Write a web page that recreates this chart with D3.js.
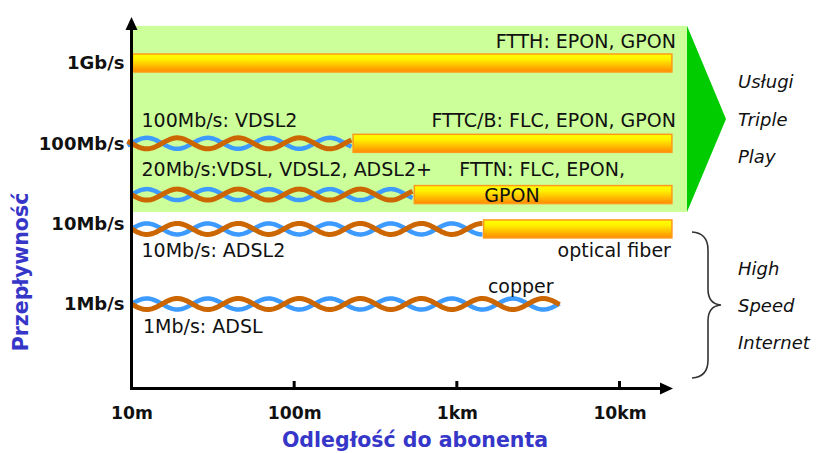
<!DOCTYPE html>
<html>
<head>
<meta charset="utf-8">
<script src="https://cdn.jsdelivr.net/npm/d3@7"></script>
<style>
  html, body { margin: 0; padding: 0; background: #ffffff; }
  svg { display: block; }
</style>
</head>
<body>
<script>
// ---------- data ----------
const xTickValues = [10, 100, 1000, 10000];
const xTickLabels = ["10m", "100m", "1km", "10km"];
const yTickValues = [1, 10, 100, 1000];
const yTickLabels = ["1Mb/s", "10Mb/s", "100Mb/s", "1Gb/s"];

const copperSpeeds = [100, 23, 8.6, 1];          // Mb/s (row level)
const copperReach  = [227, 540, 1440, 4300];     // metres where copper ends
const copperLabels = ["100Mb/s: VDSL2", "20Mb/s:VDSL, VDSL2, ADSL2+", "10Mb/s: ADSL2", "1Mb/s: ADSL"];

const fiberSpeeds = [1000, 100, 23, 8.6];
const fiberStart  = [10, 227, 540, 1440];
const fiberEnd    = 21000;
const fiberLabels = ["FTTH: EPON, GPON", "FTTC/B: FLC, EPON, GPON", "FTTN: FLC, EPON,|GPON", "optical fiber"];

const tripleZone = { from: 10, to: 26000, low: 14, high: 2900 };
const triplePlayText = ["Usługi", "Triple", "Play"];
const internetText = ["High", "Speed", "Internet"];
const copperText = "copper";
const xTitle = "Odległość do abonenta";
const yTitle = "Przepływność";

// ---------- setup ----------
const W = 818, H = 453;
const svg = d3.select("body").append("svg").attr("width", W).attr("height", H);
svg.append("rect").attr("width", W).attr("height", H).attr("fill", "#ffffff");

const x = d3.scaleLog().domain([10, 10000]).range([131.5, 619.5]);
const y = d3.scaleLog().domain([1, 1000]).range([304, 63]);

const FONT = "'DejaVu Sans', Verdana, sans-serif";
const BLUE_TITLE = "#3636c8";
const ORANGE = "#cc6600";
const WIRE_BLUE = "#3d9bff";

const defs = svg.append("defs");
const grad = defs.append("linearGradient").attr("id", "fib")
  .attr("x1", 0).attr("y1", 0).attr("x2", 0).attr("y2", 1);
grad.append("stop").attr("offset", "0%").attr("stop-color", "#ffff00");
grad.append("stop").attr("offset", "30%").attr("stop-color", "#fff000");
grad.append("stop").attr("offset", "100%").attr("stop-color", "#ff8a00");

// ---------- triple play zone ----------
const zx0 = x(tripleZone.from), zx1 = x(tripleZone.to);
const zy0 = y(tripleZone.high), zy1 = y(tripleZone.low);
svg.append("rect")
  .attr("x", zx0).attr("y", zy0)
  .attr("width", zx1 - zx0).attr("height", zy1 - zy0)
  .attr("fill", "#ccff99");
svg.append("path")
  .attr("d", `M${zx1},${zy0} L${zx1 + 39},${(zy0 + zy1) / 2} L${zx1},${zy1} Z`)
  .attr("fill", "#00cc00");

// ---------- twisted pairs ----------
const PERIOD = 61, AMP = 5.5;
function wire(x0, x1, cy, sign) {
  const pts = [];
  const start = x(10);
  for (let px = x0; px <= x1; px += 1) {
    pts.push([px, cy + sign * AMP * Math.sin(2 * Math.PI * (px - start) / PERIOD)]);
  }
  return d3.line()(pts);
}
copperSpeeds.forEach((s, i) => {
  const cy = y(s);
  const a = x(10) - (i === 0 ? 4 : 0), b = x(copperReach[i]);
  svg.append("path").attr("d", wire(a, b, cy, -1))
    .attr("fill", "none").attr("stroke", WIRE_BLUE).attr("stroke-width", 4.5);
  svg.append("path").attr("d", wire(a, b, cy, 1))
    .attr("fill", "none").attr("stroke", ORANGE).attr("stroke-width", 5);
});

// ---------- fiber bars ----------
const BAR_H = 18;
fiberSpeeds.forEach((s, i) => {
  const x0 = x(fiberStart[i]), x1 = x(fiberEnd);
  svg.append("rect")
    .attr("x", x0 + 1).attr("y", y(s) - BAR_H / 2)
    .attr("width", x1 - x0 - 1).attr("height", BAR_H)
    .attr("fill", "url(#fib)")
    .attr("stroke", "#ff9a1a").attr("stroke-width", 1.5);
});

// ---------- labels ----------
const labelG = svg.append("g").attr("font-family", FONT).attr("font-size", 19).attr("fill", "#111");
copperLabels.forEach((t, i) => {
  const s = copperSpeeds[i];
  const above = s >= 20;
  labelG.append("text")
    .attr("x", x(10) + 10 + (i === 3 ? 1.5 : 0))
    .attr("y", y(s) + (above ? (i === 0 ? -16 : -18.5) : 28.5))
    .text(t);
});
fiberLabels.forEach((t, i) => {
  const s = fiberSpeeds[i];
  const parts = t.split("|");
  if (parts.length > 1) {
    const bx = x(fiberStart[i]);
    labelG.append("text").attr("x", bx + 46).attr("y", y(s) - 18.5).text(parts[0]);
    labelG.append("text").attr("x", bx + 71).attr("y", y(s) + 7.5).text(parts[1]);
  } else if (s >= 20) {
    labelG.append("text").attr("x", x(fiberEnd) + 4).attr("y", y(s) - (i === 0 ? 15 : 16))
      .attr("text-anchor", "end").text(t);
  } else {
    labelG.append("text").attr("x", x(fiberEnd) - 1).attr("y", y(s) + 28.5)
      .attr("text-anchor", "end").text(t);
  }
});
labelG.append("text")
  .attr("x", x(copperReach[3]) - 72).attr("y", y(copperSpeeds[3]) - 11)
  .text(copperText);

// ---------- right side annotations ----------
const sideG = svg.append("g").attr("font-family", FONT).attr("font-size", 18)
  .attr("font-style", "italic").attr("fill", "#111");
triplePlayText.forEach((t, i) => {
  sideG.append("text").attr("x", 738).attr("y", 88 + i * 37.5).text(t);
});
internetText.forEach((t, i) => {
  sideG.append("text").attr("x", 738).attr("y", 275 + i * 37).text(t);
});
svg.append("path")
  .attr("d", "M692,232 Q708,233 708,250 L708,289 Q708,304 721,305 Q708,306 708,321 L708,360 Q708,377 692,378")
  .attr("fill", "none").attr("stroke", "#333").attr("stroke-width", 1.6);

// ---------- axes ----------
const axisY0 = 388.5;
const xAxis = d3.axisBottom(x)
  .tickValues(xTickValues)
  .tickFormat((d, i) => xTickLabels[i])
  .tickSize(0).tickPadding(18);
const gx = svg.append("g").attr("transform", `translate(0,${axisY0})`).call(xAxis);
gx.select(".domain").remove();
gx.selectAll("text").attr("font-family", FONT).attr("font-weight", "bold")
  .attr("font-size", 17.2).attr("fill", "#111");
gx.selectAll(".tick line").remove();
xTickValues.slice(1).forEach(v => {
  svg.append("line").attr("x1", x(v)).attr("x2", x(v))
    .attr("y1", axisY0 - 7.5).attr("y2", axisY0)
    .attr("stroke", "#000").attr("stroke-width", 3);
});

const yAxis = d3.axisLeft(y)
  .tickValues(yTickValues)
  .tickFormat((d, i) => yTickLabels[i])
  .tickSize(0).tickPadding(7);
const gy = svg.append("g").attr("transform", `translate(${x(10)},0)`).call(yAxis);
gy.select(".domain").remove();
gy.selectAll("text").attr("font-family", FONT).attr("font-weight", "bold")
  .attr("font-size", 18).attr("fill", "#111");

// axis lines with arrows
const ax = x(10);
svg.append("line").attr("x1", ax).attr("x2", ax).attr("y1", axisY0 + 1.5).attr("y2", 28)
  .attr("stroke", "#000").attr("stroke-width", 3);
svg.append("path").attr("d", `M${ax - 6},${30} L${ax},${17} L${ax + 6},${30} Z`).attr("fill", "#000");
svg.append("line").attr("x1", ax - 1.5).attr("x2", 662).attr("y1", axisY0).attr("y2", axisY0)
  .attr("stroke", "#000").attr("stroke-width", 3);
svg.append("path").attr("d", `M${660},${axisY0 - 6} L${673},${axisY0} L${660},${axisY0 + 6} Z`).attr("fill", "#000");

// ---------- titles ----------
svg.append("text")
  .attr("x", 415).attr("y", 447)
  .attr("text-anchor", "middle")
  .attr("font-family", FONT).attr("font-weight", "bold").attr("font-size", 20.5)
  .attr("fill", BLUE_TITLE).text(xTitle);
svg.append("text")
  .attr("transform", "translate(28,272) rotate(-90)")
  .attr("text-anchor", "middle")
  .attr("font-family", FONT).attr("font-weight", "bold").attr("font-size", 20.5)
  .attr("fill", BLUE_TITLE).text(yTitle);
</script>
</body>
</html>
